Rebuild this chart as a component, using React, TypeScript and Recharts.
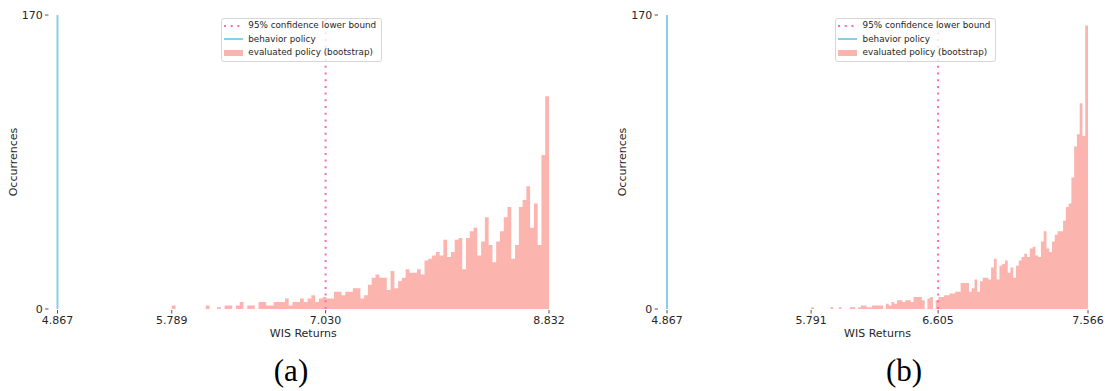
import React from 'react'
import {
  ComposedChart,
  Area,
  XAxis,
  YAxis,
  ReferenceLine,
  Legend,
  Label
} from 'recharts'

const FONT = "'DejaVu Sans', sans-serif"
const INK = '#262626'
const BAR_FILL = '#fbb4ae'
const BOUND_COLOR = '#ff69b4'
const BEHAVIOR_COLOR = '#87ceeb'

const BEHAVIOR_RETURN = 4.867
const Y_TICKS = [0, 170]

// (a) bootstrap WIS returns, 100 bins between min and max
const A_MIN = 5.789
const A_MAX = 8.832
const A_LOWER_BOUND = 7.03
const A_TICKS = [4.867, 5.789, 7.03, 8.832]
const A_COUNTS = [
  2, 0, 0, 0, 0, 0, 0, 0, 0, 2, 0, 0, 1, 0, 2, 2, 0, 2, 4, 0,
  2, 2, 0, 4, 4, 2, 2, 4, 4, 4, 6, 2, 4, 4, 6, 4, 6, 8, 4, 6,
  7, 6, 6, 10, 10, 8, 10, 10, 12, 12, 6, 8, 14, 18, 20, 18, 18, 11, 22, 12,
  16, 18, 23, 21, 21, 23, 20, 28, 29, 31, 33, 31, 40, 30, 33, 40, 41, 23, 41, 45,
  47, 31, 39, 53, 37, 27, 39, 45, 53, 59, 29, 37, 59, 63, 71, 47, 61, 37, 89, 123
]

// (b)
const B_MIN = 5.791
const B_MAX = 7.566
const B_LOWER_BOUND = 6.605
const B_TICKS = [4.867, 5.791, 6.605, 7.566]
const B_COUNTS = [
  1, 0, 0, 0, 0, 0, 0, 1, 0, 0, 1, 0, 0, 0, 1, 1, 0, 1, 2, 2,
  1, 1, 2, 2, 2, 2, 0, 3, 2, 4, 3, 5, 5, 4, 5, 5, 4, 7, 7, 7,
  5, 0, 6, 7, 0, 5, 7, 7, 8, 8, 9, 9, 10, 10, 15, 15, 15, 10, 12, 17,
  10, 16, 18, 18, 17, 24, 29, 17, 25, 26, 28, 21, 24, 18, 25, 28, 30, 32, 30, 35,
  36, 31, 30, 39, 45, 35, 33, 39, 43, 45, 45, 51, 59, 61, 76, 94, 101, 119, 100, 164
]

// histogram outline: one point per bin edge, drawn as a step area
function toSteps(lo: number, hi: number, counts: number[]) {
  const w = (hi - lo) / counts.length
  const pts = counts.map((c, i) => ({ x: lo + i * w, count: c }))
  pts.push({ x: hi, count: counts[counts.length - 1] })
  return pts
}

const XTick = ({ x, y, payload }: any) => (
  <g>
    <line x1={x} x2={x} y1={y} y2={y + 3.5} stroke={INK} strokeWidth={0.8} />
    <text x={x} y={y + 13.5} textAnchor="middle" fontSize={11} fontFamily={FONT} fill={INK}>
      {Number(payload.value).toFixed(3)}
    </text>
  </g>
)

const YTick = ({ x, y, payload }: any) => (
  <g>
    <line x1={x - 3.4} x2={x} y1={y} y2={y} stroke={INK} strokeWidth={0.8} />
    <text x={x - 5.8} y={y} dy={3.9} textAnchor="end" fontSize={11} fontFamily={FONT} fill={INK}>
      {payload.value}
    </text>
  </g>
)

const XTitle = ({ viewBox }: any) => (
  <text
    x={viewBox.x + viewBox.width / 2}
    y={viewBox.y + 28}
    textAnchor="middle"
    fontSize={11}
    fontFamily={FONT}
    fill={INK}
  >
    WIS Returns
  </text>
)

const YTitle = ({ viewBox }: any) => {
  const cx = viewBox.x + 2
  const cy = viewBox.y + viewBox.height / 2
  return (
    <text
      x={cx}
      y={cy}
      dy={4}
      transform={`rotate(-90 ${cx} ${cy})`}
      textAnchor="middle"
      fontSize={11}
      fontFamily={FONT}
      fill={INK}
    >
      Occurrences
    </text>
  )
}

const LegendBox = () => {
  const row = { display: 'flex', alignItems: 'center', height: 13.3 }
  const label = { marginLeft: 5.6, whiteSpace: 'nowrap' as const }
  return (
    <div
      style={{
        border: '1px solid #d6d6d6',
        borderRadius: 3,
        background: 'rgba(255,255,255,0.8)',
        padding: '0 5px 2px 2px',
        fontFamily: FONT,
        fontSize: 8.8,
        color: INK,
        lineHeight: '13.3px'
      }}
    >
      <div style={row}>
        <svg width={19} height={10}>
          <line x1={0} x2={19} y1={5} y2={5} stroke={BOUND_COLOR} strokeWidth={2} strokeDasharray="2 4.7" />
        </svg>
        <span style={label}>95% confidence lower bound</span>
      </div>
      <div style={row}>
        <svg width={19} height={10}>
          <line x1={0} x2={19} y1={5} y2={5} stroke={BEHAVIOR_COLOR} strokeWidth={2} />
        </svg>
        <span style={label}>behavior policy</span>
      </div>
      <div style={row}>
        <svg width={19} height={10}>
          <rect x={0} y={2} width={19} height={6} fill={BAR_FILL} />
        </svg>
        <span style={label}>evaluated policy (bootstrap)</span>
      </div>
    </div>
  )
}

interface PanelProps {
  left: number
  width: number
  marginLeft: number
  marginRight: number
  legendLeft: number
  lo: number
  hi: number
  counts: number[]
  ticks: number[]
  bound: number
}

function Panel({ left, width, marginLeft, marginRight, legendLeft, lo, hi, counts, ticks, bound }: PanelProps) {
  const data = toSteps(lo, hi, counts)
  return (
    <div style={{ position: 'absolute', left, top: 0 }}>
      <ComposedChart
        width={width}
        height={340}
        data={data}
        margin={{ top: 15, right: marginRight, bottom: 1, left: marginLeft }}
      >
        <XAxis
          dataKey="x"
          type="number"
          domain={[BEHAVIOR_RETURN, hi]}
          ticks={ticks}
          allowDataOverflow
          axisLine={false}
          tickLine={false}
          tickSize={0}
          tickMargin={1}
          height={30}
          tick={<XTick />}
          interval={0}
        >
          <Label content={<XTitle />} />
        </XAxis>
        <YAxis
          type="number"
          domain={[0, 170]}
          ticks={Y_TICKS}
          allowDataOverflow
          axisLine={false}
          tickLine={false}
          tickSize={0}
          tickMargin={9}
          width={47}
          tick={<YTick />}
          interval={0}
        >
          <Label content={<YTitle />} />
        </YAxis>
        <Area
          type="stepAfter"
          dataKey="count"
          stroke="none"
          fill={BAR_FILL}
          fillOpacity={1}
          dot={false}
          activeDot={false}
          isAnimationActive={false}
        />
        <ReferenceLine x={BEHAVIOR_RETURN} stroke={BEHAVIOR_COLOR} strokeWidth={2} ifOverflow="extendDomain" />
        <ReferenceLine x={bound} stroke={BOUND_COLOR} strokeWidth={2} strokeDasharray="2 4.7" />
        <Legend
          layout="vertical"
          align="center"
          verticalAlign="middle"
          content={<LegendBox />}
          wrapperStyle={{ left: legendLeft, top: 18.3, width: 'auto' }}
        />
      </ComposedChart>
    </div>
  )
}

export default function App() {
  return (
    <div style={{ position: 'absolute', left: 0, top: 0, width: 1107, height: 391, background: '#fff', overflow: 'hidden' }}>
      <Panel
        left={0}
        width={600}
        marginLeft={10.5}
        marginRight={51}
        legendLeft={220.7}
        lo={A_MIN}
        hi={A_MAX}
        counts={A_COUNTS}
        ticks={A_TICKS}
        bound={A_LOWER_BOUND}
      />
      <Panel
        left={610}
        width={497}
        marginLeft={10}
        marginRight={19}
        legendLeft={225}
        lo={B_MIN}
        hi={B_MAX}
        counts={B_COUNTS}
        ticks={B_TICKS}
        bound={B_LOWER_BOUND}
      />
      <div style={{ position: 'absolute', left: 241, width: 100, top: 353, textAlign: 'center', fontFamily: "'Liberation Serif', serif", fontSize: 31 }}>
        (a)
      </div>
      <div style={{ position: 'absolute', left: 854, width: 100, top: 353, textAlign: 'center', fontFamily: "'Liberation Serif', serif", fontSize: 31 }}>
        (b)
      </div>
    </div>
  )
}
